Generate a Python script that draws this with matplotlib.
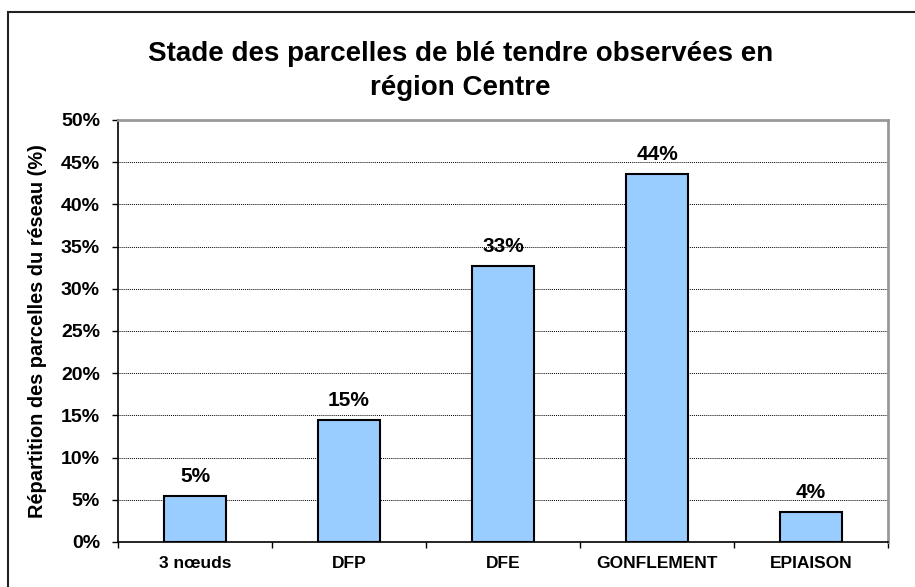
import matplotlib
matplotlib.use('Agg')
import matplotlib.pyplot as plt
from matplotlib.patches import Rectangle
import numpy as np

# données
stades = ['3 nœuds', 'DFP', 'DFE', 'GONFLEMENT', 'EPIAISON']
repartition = [5.45, 14.5, 32.7, 43.6, 3.6]
etiquettes = ['5%', '15%', '33%', '44%', '4%']

plt.rcParams['font.family'] = ['Liberation Sans', 'DejaVu Sans']

fig = plt.figure(figsize=(9.15, 5.87), dpi=100)
ax = fig.add_axes([0.129, 0.0767, 0.8415, 0.7189])

x = np.arange(len(stades))
ax.bar(x, repartition, width=0.4, color='#99CCFF', edgecolor='black',
       linewidth=1.5, zorder=3)

for xi, v, lab in zip(x, repartition, etiquettes):
    ax.annotate(lab, (xi, v), xytext=(0, 7), textcoords='offset points',
                ha='center', va='bottom', fontsize=15, fontweight='bold')

ax.set_xlim(-0.5, 4.5)
ax.set_ylim(0, 50)
ax.set_yticks(np.arange(0, 51, 5))
ax.set_yticklabels(['{}%'.format(t) for t in range(0, 51, 5)],
                   fontsize=14, fontweight='bold')
ax.set_xticks(x)
ax.set_xticklabels(stades, fontsize=12.5, fontweight='bold')
ax.tick_params(axis='x', which='major', length=0, pad=10)
ax.set_xticks(np.arange(-0.5, 4.6, 1), minor=True)
ax.tick_params(axis='x', which='minor', length=4, width=1, color='black')
ax.tick_params(axis='y', length=4, width=1, pad=9)

ax.yaxis.grid(True, linestyle=(0, (1, 1)), color='black', linewidth=0.7, zorder=1)
ax.spines['left'].set_color('black')
ax.spines['bottom'].set_color('black')
ax.spines['left'].set_linewidth(1.2)
ax.spines['bottom'].set_linewidth(1.2)
ax.spines['top'].set_color('#999999')
ax.spines['right'].set_color('#999999')
ax.spines['top'].set_linewidth(2)
ax.spines['right'].set_linewidth(2)

ax.set_ylabel('Répartition des parcelles du réseau (%)', fontsize=14.4,
              fontweight='bold')
ax.yaxis.set_label_coords(-0.092, 0.5)

fig.text(0.503, 0.879, 'Stade des parcelles de blé tendre observées en\nrégion Centre',
         ha='center', va='center', fontsize=20, fontweight='bold', linespacing=1.42)

# cadre du graphique
fig.patches.append(Rectangle((8 / 915, -0.1), 1.2, 1.1 - 12 / 587,
                             transform=fig.transFigure, fill=False,
                             edgecolor='#222222', linewidth=1.5))

fig.savefig('out.png', dpi=100)
